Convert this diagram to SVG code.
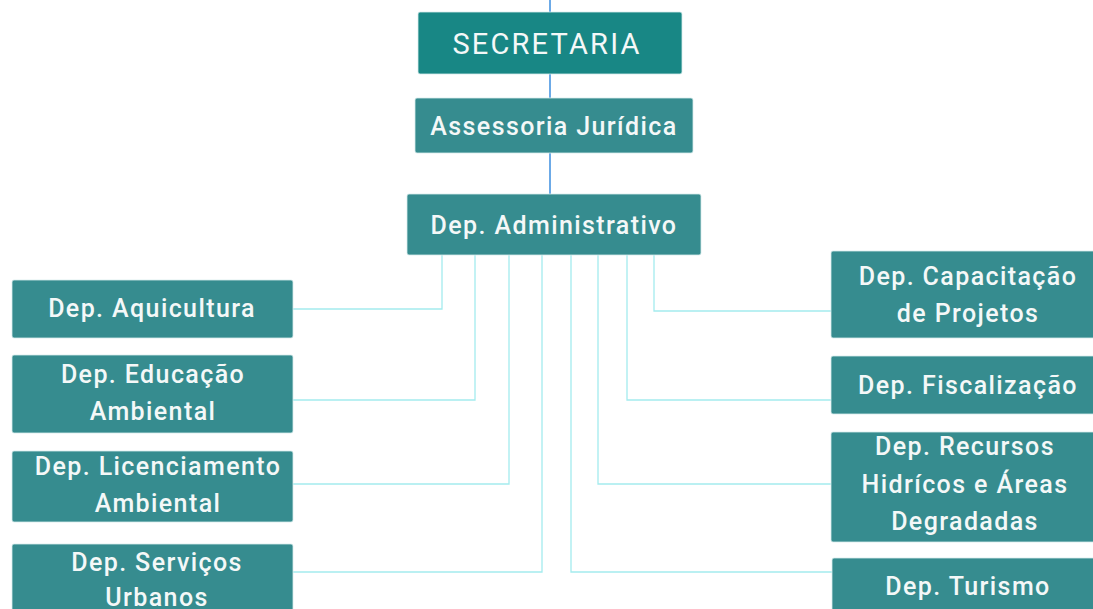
<svg xmlns="http://www.w3.org/2000/svg" width="1093" height="609" viewBox="0 0 1093 609">
<style>
.box{fill:#368c8f;stroke:#d8ecec;stroke-width:0.8}
.top{fill:#188785;stroke:#d8ecec;stroke-width:0.8}
.t{font-family:Roboto,"Liberation Sans",sans-serif;font-weight:500;font-size:25px;fill:#f4f8f8;text-anchor:middle;letter-spacing:1.4px}
.tt{font-family:Roboto,"Liberation Sans",sans-serif;font-weight:400;font-size:29px;fill:#f4f8f8;text-anchor:middle;letter-spacing:2.2px}
.c{fill:none;stroke:#a4ecee;stroke-width:1.3}
.b{fill:none;stroke:#3c8fe0;stroke-width:1.5}
</style>
<rect width="1093" height="609" fill="#ffffff"/>
<g id="connectors">
<path class="b" d="M550 0V12M550 74V98M550 153V194"/>
<path class="c" d="M442 255V309H293"/>
<path class="c" d="M475 255V400H293"/>
<path class="c" d="M509 255V484H293"/>
<path class="c" d="M542 255V572H293"/>
<path class="c" d="M571 255V572H832"/>
<path class="c" d="M598 255V484H831"/>
<path class="c" d="M627 255V400H831"/>
<path class="c" d="M654 255V311H831"/>
</g>
<g id="secretaria"><rect class="top" x="418" y="12" width="264" height="62" rx="2"/><text class="tt" x="547" y="54">SECRETARIA</text></g>
<g id="assessoria"><rect class="box" x="415" y="98" width="278" height="55" rx="2"/><text class="t" x="554" y="135">Assessoria Jurídica</text></g>
<g id="administrativo"><rect class="box" x="407" y="194" width="294" height="61" rx="2"/><text class="t" x="554" y="234">Dep. Administrativo</text></g>
<g id="aquicultura"><rect class="box" x="12" y="280" width="281" height="58" rx="2"/><text class="t" x="152" y="317">Dep. Aquicultura</text></g>
<g id="educacao"><rect class="box" x="12" y="355" width="281" height="78" rx="2"/><text class="t" x="153" y="383">Dep. Educação</text><text class="t" x="153" y="420">Ambiental</text></g>
<g id="licenciamento"><rect class="box" x="12" y="451" width="281" height="71" rx="2"/><text class="t" x="158" y="475">Dep. Licenciamento</text><text class="t" x="158" y="512">Ambiental</text></g>
<g id="servicos"><rect class="box" x="12" y="544" width="281" height="70" rx="2"/><text class="t" x="157" y="571">Dep. Serviços</text><text class="t" x="157" y="606">Urbanos</text></g>
<g id="capacitacao"><rect class="box" x="831" y="251" width="265" height="87" rx="2"/><text class="t" x="968" y="285">Dep. Capacitação</text><text class="t" x="968" y="322">de Projetos</text></g>
<g id="fiscalizacao"><rect class="box" x="831" y="356" width="265" height="58" rx="2"/><text class="t" x="968" y="394">Dep. Fiscalização</text></g>
<g id="recursos"><rect class="box" x="831" y="432" width="265" height="110" rx="2"/><text class="t" x="965" y="455">Dep. Recursos</text><text class="t" x="965" y="493">Hidrícos e Áreas</text><text class="t" x="965" y="530">Degradadas</text></g>
<g id="turismo"><rect class="box" x="832" y="558" width="264" height="56" rx="2"/><text class="t" x="968" y="595">Dep. Turismo</text></g>
</svg>
